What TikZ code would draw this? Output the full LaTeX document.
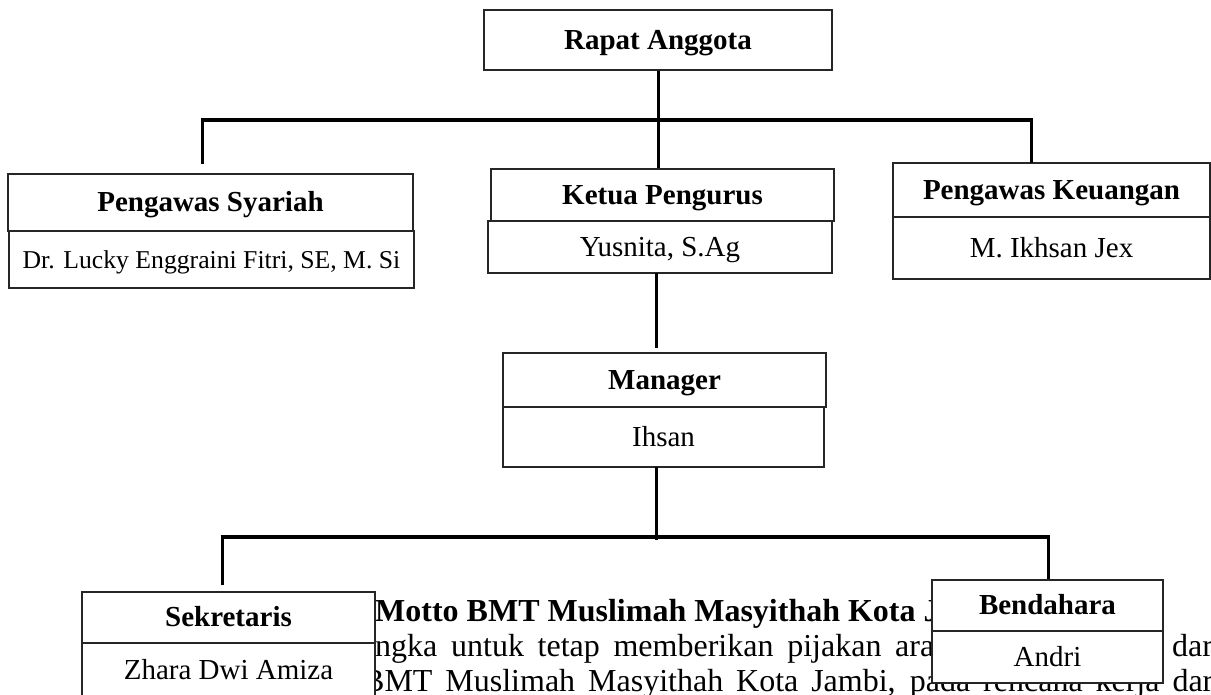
\documentclass[tikz,border=0pt]{standalone}
\usepackage{fontspec}
\setmainfont{Liberation Serif}
\begin{document}
\begin{tikzpicture}[x=1pt,y=-1pt,
  box/.style={draw=black!85, line width=1.2pt, fill=white, rectangle, inner sep=0pt,
    align=center, text height=23pt, text depth=5pt, font=\fontsize{29}{34}\selectfont},
  head/.style={box, font=\bfseries\fontsize{29}{34}\selectfont},
  conn/.style={line width=3pt},
  bar/.style={line width=4.5pt},
  body/.style={anchor=base west, inner sep=0pt, font=\fontsize{32}{35}\selectfont},
  bodyb/.style={body, font=\bfseries\fontsize{32}{35}\selectfont}]
\useasboundingbox (0,0) rectangle (1211,694);
\clip (0,0) rectangle (1211,694);

% background page text
\node[bodyb] (motto) at (375,621) {Motto BMT Muslimah Masyithah Kota J};
\node[body] (l2a) at (375,656) {\makebox[559pt][s]{ngka untuk tetap memberikan pijakan ara}};
\node[body] (l2b) at (1172,656) {dari};
\node[body] (l3) at (363,691) {\makebox[859pt][s]{BMT Muslimah Masyithah Kota Jambi, pada rencana kerja dari}};

% boxes
\node[head, minimum width=348pt, minimum height=60pt] (rapat) at (658,40) {Rapat Anggota};

\node[head, minimum width=405pt, minimum height=57pt] (syaT) at (210.5,202.5) {Pengawas Syariah};
\node[box, minimum width=405pt, minimum height=57pt, font=\fontsize{25.7}{30}\selectfont] (syaB) at (211.5,259.5) {Dr. Lucky Enggraini Fitri, SE, M. Si};

\node[head, minimum width=343pt, minimum height=52pt] (ketT) at (662.5,195) {Ketua Pengurus};
\node[box, minimum width=344pt, minimum height=52pt] (ketB) at (660,247) {Yusnita, S.Ag};

\node[head, minimum width=317pt, minimum height=54pt] (keuT) at (1051.5,190) {Pengawas Keuangan};
\node[box, minimum width=317pt, minimum height=62pt] (keuB) at (1051.5,248) {M. Ikhsan Jex};

\node[head, minimum width=323pt, minimum height=54pt] (manT) at (664.5,380) {Manager};
\node[box, minimum width=321pt, minimum height=60pt] (manB) at (663.5,437) {Ihsan};

\node[head, minimum width=293pt, minimum height=51pt] (sekT) at (228.5,617.5) {Sekretaris};
\node[box, minimum width=293pt, minimum height=100pt] (sekB) at (228.5,693) {};
\node[font=\fontsize{29}{34}\selectfont, inner sep=0pt, text height=23pt, text depth=5pt] (sekN) at (228.5,670) {Zhara Dwi Amiza};

\node[head, minimum width=231pt, minimum height=51pt] (benT) at (1047.5,605.5) {Bendahara};
\node[box, minimum width=231pt, minimum height=52pt] (benB) at (1047.5,657) {Andri};

% connectors, upper level
\coordinate (barL) at (202,120);
\coordinate (barR) at (1031,120);
\coordinate (dropL) at (202,164);
\coordinate (dropR) at (1031,163);
\draw[conn] (rapat.south) -- (rapat.south |- ketT.north);
\draw[bar] ([xshift=-1.5pt]barL) -- ([xshift=1.5pt]barR);
\draw[conn] (barL) -- (dropL);
\draw[conn] (barR) -- (dropR);

% ketua to manager
\coordinate (kmTop) at (656,273);
\coordinate (kmBot) at (656,348);
\draw[conn] (kmTop) -- (kmBot);

% lower level
\coordinate (mTop) at (656,467);
\coordinate (bar2L) at (222,537);
\coordinate (bar2R) at (1048,537);
\coordinate (mBot) at (656,540);
\coordinate (drop2L) at (222,585);
\coordinate (drop2R) at (1048,579);
\draw[conn] (mTop) -- (mBot);
\draw[bar] ([xshift=-1.5pt]bar2L) -- ([xshift=1.5pt]bar2R);
\draw[conn] (bar2L) -- (drop2L);
\draw[conn] (bar2R) -- (drop2R);
\end{tikzpicture}
\end{document}
